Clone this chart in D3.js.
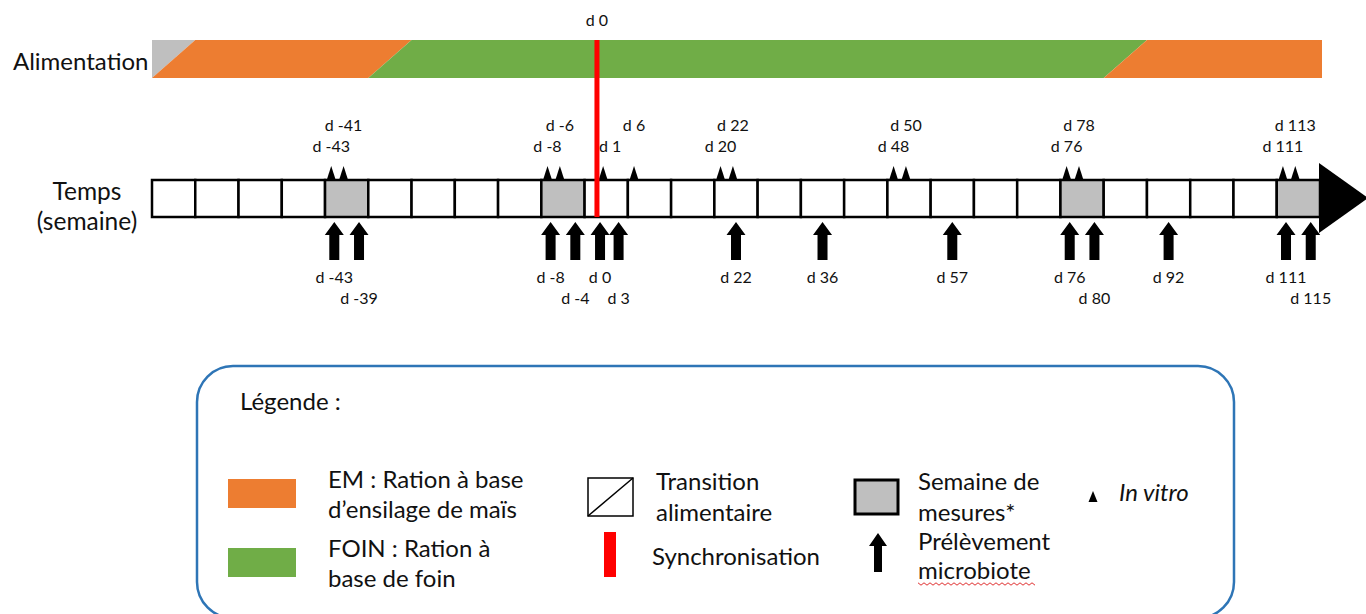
<!DOCTYPE html>
<html><head><meta charset="utf-8">
<script src="https://cdn.jsdelivr.net/npm/d3@7"></script>
<style>
body{margin:0;background:#fff;}
svg{display:block;}
text{font-family:Lato,"Open Sans",sans-serif;fill:#111;}
</style>
</head><body>
<svg id="chart" width="1366" height="614"></svg>
<script>
// ---- data ----
const dayStart = -72, dayEnd = 117;           // timeline extent (days)
const weekCount = 27;                          // number of weekly cells
const measureWeeks = [4, 9, 21, 26];           // "Semaine de mesures"
const dietNames = ["", "EM", "FOIN", "EM"];    // successive diets
const dietTransitions = [-72, -37, 82];        // start day of each diet transition
const transitionDays = 7;
const syncDay = 0;
const inVitroDays = [-43, -41, -8, -6, 1, 6, 20, 22, 48, 50, 76, 78, 111, 113];
const microbiotaDays = [-43, -39, -8, -4, 0, 3, 22, 36, 57, 76, 80, 92, 111, 115];
const legendDiet = [
  {diet: "EM", lines: ["EM : Ration à base", "d’ensilage de maïs"]},
  {diet: "FOIN", lines: ["FOIN : Ration à", "base de foin"]}
];
const legendTransition = ["Transition", "alimentaire"];
const legendSync = "Synchronisation";
const legendMeasure = ["Semaine de", "mesures*"];
const legendMicro = ["Prélèvement", "microbiote"];
const legendInVitro = "In vitro";

// ---- style ----
const dietColor = {"": "#BFBFBF", "EM": "#ED7D31", "FOIN": "#70AD47"};
const big = "24px", small = "16px";
const svg = d3.select("#chart");
const x = d3.scaleLinear().domain([dayStart, dayEnd]).range([152, 1320]);
const barTop = 40, barBot = 78, boxTop = 180, boxBot = 217;

function rowsOf(days) {
  const out = [];
  days.forEach((d, i) => {
    let r = 0;
    if (i > 0 && d - days[i - 1] <= 5 && out[i - 1] === 0) r = 1;
    out.push(r);
  });
  return out;
}
function arrowPath(cx, tip, bottom, headW, headH, shaftW) {
  return `M${cx},${tip} L${cx + headW / 2},${tip + headH} L${cx + shaftW / 2},${tip + headH} L${cx + shaftW / 2},${bottom} L${cx - shaftW / 2},${bottom} L${cx - shaftW / 2},${tip + headH} L${cx - headW / 2},${tip + headH} Z`;
}
const dayLabel = d => "d " + (d < 0 ? "-" + Math.abs(d) : d);

// ---- Alimentation bar ----
svg.append("text").attr("x", 13).attr("y", 62).attr("dy", "0.35em")
  .style("font-size", "24px").text("Alimentation");

const phases = dietNames.map((name, j) => {
  const left = j === 0 ? {t: dayStart, b: dayStart} : {t: dietTransitions[j - 1] + transitionDays, b: dietTransitions[j - 1]};
  const right = j === dietNames.length - 1 ? {t: dayEnd, b: dayEnd} : {t: dietTransitions[j] + transitionDays, b: dietTransitions[j]};
  return {name, left, right};
});
svg.append("g").selectAll("path").data(phases).join("path")
  .attr("d", p => `M${x(p.left.t)},${barTop} L${x(p.right.t) + (p.right.t === dayEnd ? 2 : 0)},${barTop} L${x(p.right.b) + (p.right.b === dayEnd ? 2 : 0)},${barBot} L${x(p.left.b)},${barBot} Z`)
  .attr("fill", p => dietColor[p.name]);

// ---- Temps ----
svg.append("text").attr("x", 87).attr("y", 191).attr("dy", "0.35em").attr("text-anchor", "middle")
  .style("font-size", "24.5px").text("Temps");
svg.append("text").attr("x", 87).attr("y", 221).attr("dy", "0.35em").attr("text-anchor", "middle")
  .style("font-size", "24.5px").text("(semaine)");

// arrow head of the time axis
svg.append("path")
  .attr("d", `M${x(dayEnd) - 1},163 L${x(dayEnd) + 48},198 L${x(dayEnd) - 1},233 Z`)
  .attr("fill", "#000");

const weeks = d3.range(weekCount);
svg.append("g").selectAll("rect").data(weeks).join("rect")
  .attr("x", w => x(dayStart + 7 * w))
  .attr("y", boxTop)
  .attr("width", w => x(dayStart + 7 * (w + 1)) - x(dayStart + 7 * w))
  .attr("height", boxBot - boxTop)
  .attr("fill", w => measureWeeks.includes(w) ? "#BFBFBF" : "#fff")
  .attr("stroke", "#000").attr("stroke-width", 2.5);

// in vitro triangles + labels
const ivRows = rowsOf(inVitroDays);
svg.append("g").selectAll("path").data(inVitroDays).join("path")
  .attr("d", d => `M${x(d) - 4.5},${boxTop} L${x(d)},${boxTop - 14} L${x(d) + 4.5},${boxTop} Z`)
  .attr("fill", "#000");
svg.append("g").selectAll("text").data(inVitroDays).join("text")
  .attr("x", d => x(d) + (Math.abs(x(d) - x(syncDay)) < 12 ? 7 : 0))
  .attr("y", (d, i) => ivRows[i] ? 125 : 146).attr("dy", "0.35em")
  .attr("text-anchor", "middle").style("font-size", small)
  .text(dayLabel);

// microbiota arrows + labels
const mbRows = rowsOf(microbiotaDays);
svg.append("g").selectAll("path").data(microbiotaDays).join("path")
  .attr("d", d => arrowPath(x(d + 0.5), 222, 260, 19, 13, 10))
  .attr("fill", "#000");
svg.append("g").selectAll("text").data(microbiotaDays).join("text")
  .attr("x", d => x(d + 0.5)).attr("y", (d, i) => mbRows[i] ? 298 : 277).attr("dy", "0.35em")
  .attr("text-anchor", "middle").style("font-size", small)
  .text(dayLabel);

// synchronisation line
svg.append("rect").attr("x", x(syncDay) - 2.5).attr("y", barTop).attr("width", 5)
  .attr("height", boxBot - barTop).attr("fill", "#FF0000");
svg.append("text").attr("x", x(syncDay)).attr("y", 20).attr("dy", "0.35em")
  .attr("text-anchor", "middle").style("font-size", small).text(dayLabel(syncDay));

// ---- Legend ----
const lg = svg.append("g");
lg.append("rect").attr("x", 197).attr("y", 366).attr("width", 1037).attr("height", 252)
  .attr("rx", 36).attr("fill", "none").attr("stroke", "#2E75B6").attr("stroke-width", 2.5);
lg.append("text").attr("x", 240).attr("y", 402).attr("dy", "0.35em").style("font-size", big).text("Légende :");

legendDiet.forEach((item, i) => {
  const y0 = 479 + i * 69;
  lg.append("rect").attr("x", 228).attr("y", y0).attr("width", 68).attr("height", 29)
    .attr("fill", dietColor[item.diet]);
  item.lines.forEach((l, k) => lg.append("text").attr("x", 328).attr("y", y0 + 1 + k * 30)
    .attr("dy", "0.35em").style("font-size", big).text(l));
});

lg.append("rect").attr("x", 588).attr("y", 478).attr("width", 45).attr("height", 38)
  .attr("fill", "#fff").attr("stroke", "#000").attr("stroke-width", 1.5);
lg.append("line").attr("x1", 588).attr("y1", 516).attr("x2", 633).attr("y2", 478)
  .attr("stroke", "#000").attr("stroke-width", 1.5);
legendTransition.forEach((l, k) => lg.append("text").attr("x", 656).attr("y", 482 + k * 31)
  .attr("dy", "0.35em").style("font-size", big).text(l));

lg.append("rect").attr("x", 604).attr("y", 532).attr("width", 12).attr("height", 45).attr("fill", "#FF0000");
lg.append("text").attr("x", 652).attr("y", 557).attr("dy", "0.35em").style("font-size", big).text(legendSync);

lg.append("rect").attr("x", 855).attr("y", 480).attr("width", 43).attr("height", 34)
  .attr("fill", "#BFBFBF").attr("stroke", "#000").attr("stroke-width", 3);
legendMeasure.forEach((l, k) => lg.append("text").attr("x", 918).attr("y", 482 + k * 31)
  .attr("dy", "0.35em").style("font-size", big).text(l));
lg.append("path").attr("d", arrowPath(878, 533, 572, 18, 13, 8)).attr("fill", "#000");
legendMicro.forEach((l, k) => lg.append("text").attr("x", 918).attr("y", 542 + k * 29)
  .attr("dy", "0.35em").style("font-size", big).text(l));
// spell-check squiggle
const sq = d3.range(918, 1036, 3).map((v, i) => [v, 584 + (i % 2 ? 1.2 : -1.2)]);
lg.append("path").attr("d", d3.line()(sq)).attr("fill", "none").attr("stroke", "#E03030").attr("stroke-width", 1);

lg.append("path").attr("d", "M1088.5,502 L1093,491 L1097.5,502 Z").attr("fill", "#000");
lg.append("text").attr("x", 1119).attr("y", 493).attr("dy", "0.35em").style("font-size", big)
  .style("font-style", "italic").text(legendInVitro);
</script>
</body></html>
